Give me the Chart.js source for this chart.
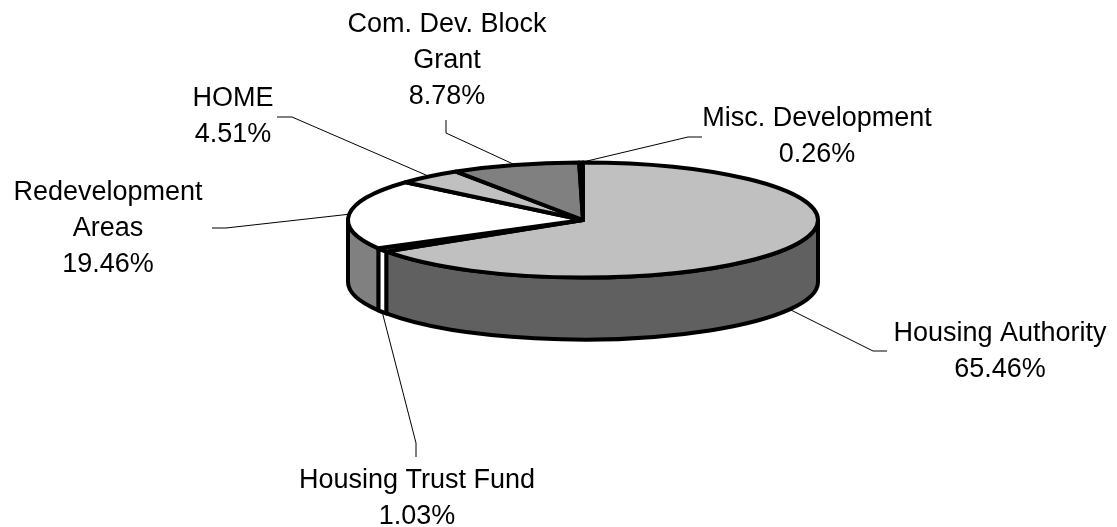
<!DOCTYPE html>
<html>
<head>
<meta charset="utf-8">
<script src="https://cdn.jsdelivr.net/npm/chart.js@4/dist/chart.umd.min.js"></script>
<style>
    html, body { margin: 0; padding: 0; background: #fff; overflow: hidden; }
    #wrap { position: absolute; left: 0; top: -15px; width: 1117px; height: 542px; }
</style>
</head>
<body>
<div id="wrap"><canvas id="fundsPie"></canvas></div>
<script>
const categories = ['Housing Authority', 'Housing Trust Fund', ['Redevelopment', 'Areas'], 'HOME', ['Com. Dev. Block', 'Grant'], 'Misc. Development'];
const shares = [65.46, 1.03, 19.46, 4.51, 8.78, 0.26];
const topColors = ['#c0c0c0', '#ffffff', '#ffffff', '#c0c0c0', '#808080', '#000000'];
const sideColors = ['#606060', '#ffffff', '#808080', '#606060', '#404040', '#000000'];

const OFFSET_Y = 15;   // wrapper is shifted up by this much
const TILT = 0.245;    // ry / rx of the top ellipse
const DEPTH = 62;      // thickness of the pie
const FONT = '27px "Liberation Sans", Arial, sans-serif';
const LINE_H = 36;

// where each label sits (page coordinates): elbow, end of leader, text centre x, first baseline
const labelLayout = [
    { elbow: [873, 351], end: [887, 351], x: 1000, y: 341 },
    { elbow: [416, 443], end: [416, 457], x: 417, y: 488 },
    { elbow: [226, 228], end: [212, 228], x: 108, y: 200 },
    { elbow: [292, 117], end: [277, 117], x: 233, y: 106 },
    { elbow: [446, 133], end: [446, 120], x: 447, y: 32 },
    { elbow: [688, 137], end: [702, 137], x: 817, y: 126 }
];

const pie3d = {
    id: 'pie3d',
    beforeDatasetsDraw(chart) {
        const ctx = chart.ctx;
        const arcs = chart.getDatasetMeta(0).data;
        ctx.save();
        ctx.lineWidth = 4;
        ctx.strokeStyle = '#000';
        ctx.lineJoin = 'round';

        // side walls, only the front half is visible
        arcs.forEach((arc, i) => {
            const s = Math.max(arc.startAngle, 0);
            const e = Math.min(arc.endAngle, Math.PI);
            if (e <= s) return;
            const rx = arc.outerRadius, ry = rx * TILT;
            ctx.beginPath();
            ctx.ellipse(arc.x, arc.y, rx, ry, 0, s, e);
            ctx.ellipse(arc.x, arc.y + DEPTH, rx, ry, 0, e, s, true);
            ctx.closePath();
            ctx.fillStyle = sideColors[i];
            ctx.fill();
            ctx.stroke();
        });

        // top faces
        arcs.forEach((arc, i) => {
            const rx = arc.outerRadius, ry = rx * TILT;
            ctx.beginPath();
            ctx.moveTo(arc.x, arc.y);
            ctx.ellipse(arc.x, arc.y, rx, ry, 0, arc.startAngle, arc.endAngle);
            ctx.closePath();
            ctx.fillStyle = topColors[i];
            ctx.fill();
            ctx.stroke();
        });
        ctx.restore();
        return false;
    },
    afterDraw(chart) {
        const ctx = chart.ctx;
        const arcs = chart.getDatasetMeta(0).data;
        ctx.save();
        ctx.font = FONT;
        ctx.fillStyle = '#000';
        ctx.textAlign = 'center';
        ctx.textBaseline = 'alphabetic';
        arcs.forEach((arc, i) => {
            const lay = labelLayout[i];
            const mid = (arc.startAngle + arc.endAngle) / 2;
            const rx = arc.outerRadius, ry = rx * TILT;
            let ax = arc.x + rx * Math.cos(mid);
            let ay = arc.y + ry * Math.sin(mid);
            if (Math.sin(mid) > 0) ay += DEPTH;

            ctx.beginPath();
            ctx.lineWidth = 1;
            ctx.strokeStyle = '#000';
            ctx.moveTo(ax, ay);
            ctx.lineTo(lay.elbow[0], lay.elbow[1] + OFFSET_Y);
            ctx.lineTo(lay.end[0], lay.end[1] + OFFSET_Y);
            ctx.stroke();

            const name = categories[i];
            const lines = (Array.isArray(name) ? name : [name]).concat(shares[i].toFixed(2) + '%');
            lines.forEach((t, k) => ctx.fillText(t, lay.x, lay.y + OFFSET_Y + k * LINE_H));
        });
        ctx.restore();
    }
};

new Chart(document.getElementById('fundsPie').getContext('2d'), {
    type: 'pie',
    data: {
        labels: categories,
        datasets: [{
            data: shares,
            backgroundColor: topColors,
            borderWidth: 0,
            hoverOffset: 0
        }]
    },
    options: {
        responsive: true,
        maintainAspectRatio: false,
        animation: false,
        layout: { padding: { left: 348, right: 299, top: 0, bottom: 72 } },
        plugins: { legend: { display: false }, tooltip: { enabled: false } }
    },
    plugins: [pie3d]
});
</script>
</body>
</html>
